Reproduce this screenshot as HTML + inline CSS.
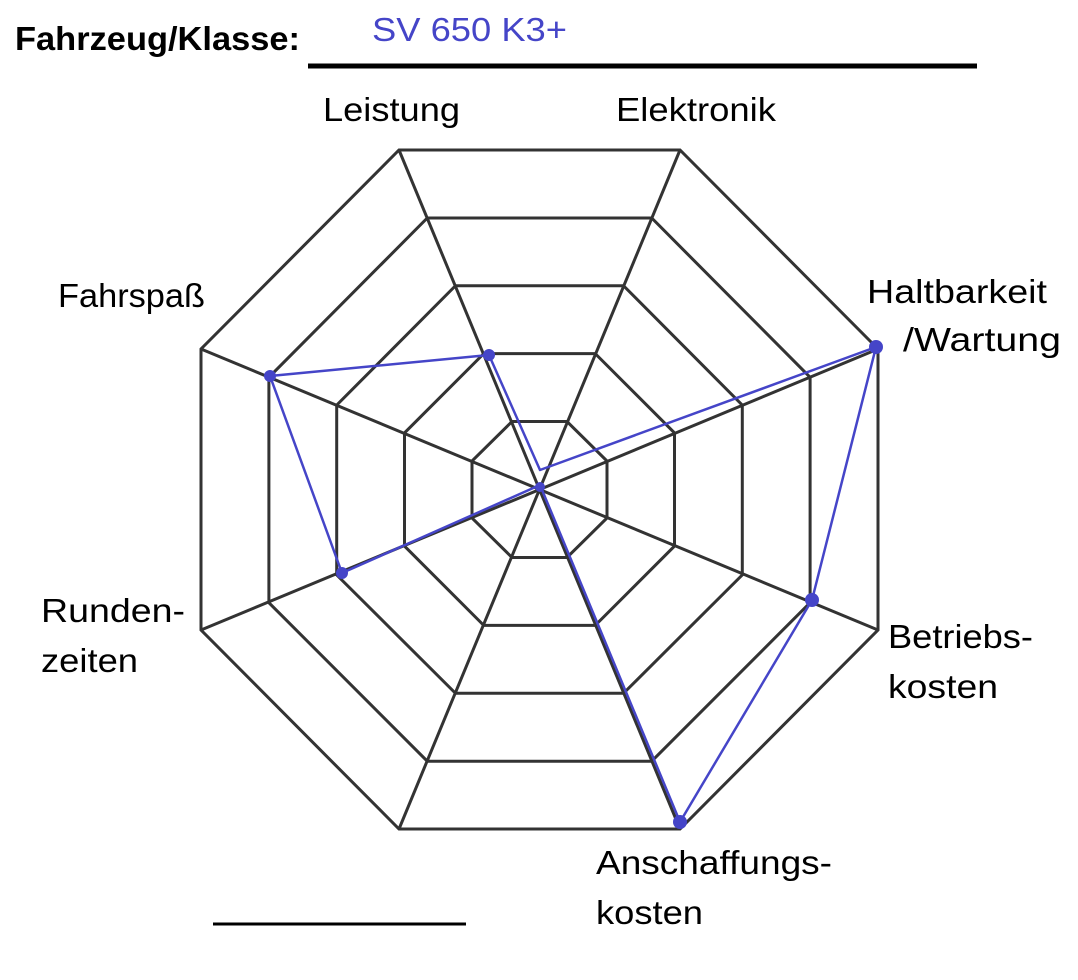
<!DOCTYPE html>
<html><head><meta charset="utf-8"><style>
html,body{margin:0;padding:0;background:#fff;}
svg{display:block;}
text{font-family:"Liberation Sans","DejaVu Sans",sans-serif;font-size:33px;fill:#000;}
</style></head><body>
<svg width="1078" height="980" viewBox="0 0 1078 980" xmlns="http://www.w3.org/2000/svg">
<text x="15" y="50" style="font-weight:600" textLength="285" lengthAdjust="spacingAndGlyphs">Fahrzeug/Klasse:</text>
<text x="372" y="41" style="fill:#4545c8" textLength="195" lengthAdjust="spacingAndGlyphs">SV 650 K3+</text>
<line x1="308" y1="66" x2="977" y2="66" stroke="#000" stroke-width="5"/>
<g fill="none" stroke="#333" stroke-width="3">
<polygon points="399,150 680,150 878,349 878,630 680,829 399,829 201,630 201,349"/>
<polygon points="427.3,218 651.7,218 810.1,377.3 810.1,602.7 651.7,761.2 427.3,761.2 268.9,602.7 268.9,377.3"/>
<polygon points="455.5,285.7 623.5,285.7 742.3,405.1 742.3,574.9 623.5,693.3 455.5,693.3 336.7,574.9 336.7,405.1"/>
<polygon points="483.8,353.6 595.2,353.6 674.5,432.9 674.5,546.1 595.2,625.4 483.8,625.4 404.5,546.1 404.5,432.9"/>
<polygon points="512,421.5 567,421.5 607,461 607,518 567,557.5 512,557.5 472,518 472,461"/>
<line x1="399" y1="150" x2="680" y2="829"/>
<line x1="680" y1="150" x2="399" y2="829"/>
<line x1="878" y1="349" x2="201" y2="630"/>
<line x1="878" y1="630" x2="201" y2="349"/>
</g>
<polyline fill="none" stroke="#4545c8" stroke-width="2.5" stroke-linejoin="round" points="489,355 540,470 876,347 812,600 680,822 540,485 342,573 270,376 489,355"/>
<g fill="#4545c8">
<circle cx="489" cy="355" r="6"/><circle cx="540" cy="487" r="5"/><circle cx="876" cy="347" r="7"/>
<circle cx="812" cy="600" r="7"/><circle cx="680" cy="822" r="7"/><circle cx="342" cy="573" r="6"/><circle cx="270" cy="376" r="6"/>
</g>
<text x="323" y="121" textLength="137" lengthAdjust="spacingAndGlyphs">Leistung</text>
<text x="616" y="121" textLength="160" lengthAdjust="spacingAndGlyphs">Elektronik</text>
<text x="867" y="303" textLength="180" lengthAdjust="spacingAndGlyphs">Haltbarkeit</text>
<text x="903" y="351" textLength="158" lengthAdjust="spacingAndGlyphs">/Wartung</text>
<text x="58" y="307" textLength="147" lengthAdjust="spacingAndGlyphs">Fahrspaß</text>
<text x="41" y="622" textLength="144" lengthAdjust="spacingAndGlyphs">Runden-</text>
<text x="41" y="672" textLength="97" lengthAdjust="spacingAndGlyphs">zeiten</text>
<text x="888" y="648" textLength="145" lengthAdjust="spacingAndGlyphs">Betriebs-</text>
<text x="888" y="698" textLength="110" lengthAdjust="spacingAndGlyphs">kosten</text>
<text x="596" y="874" textLength="236" lengthAdjust="spacingAndGlyphs">Anschaffungs-</text>
<text x="596" y="924" textLength="107" lengthAdjust="spacingAndGlyphs">kosten</text>
<line x1="213" y1="924" x2="466" y2="924" stroke="#000" stroke-width="3"/>
</svg>
</body></html>
